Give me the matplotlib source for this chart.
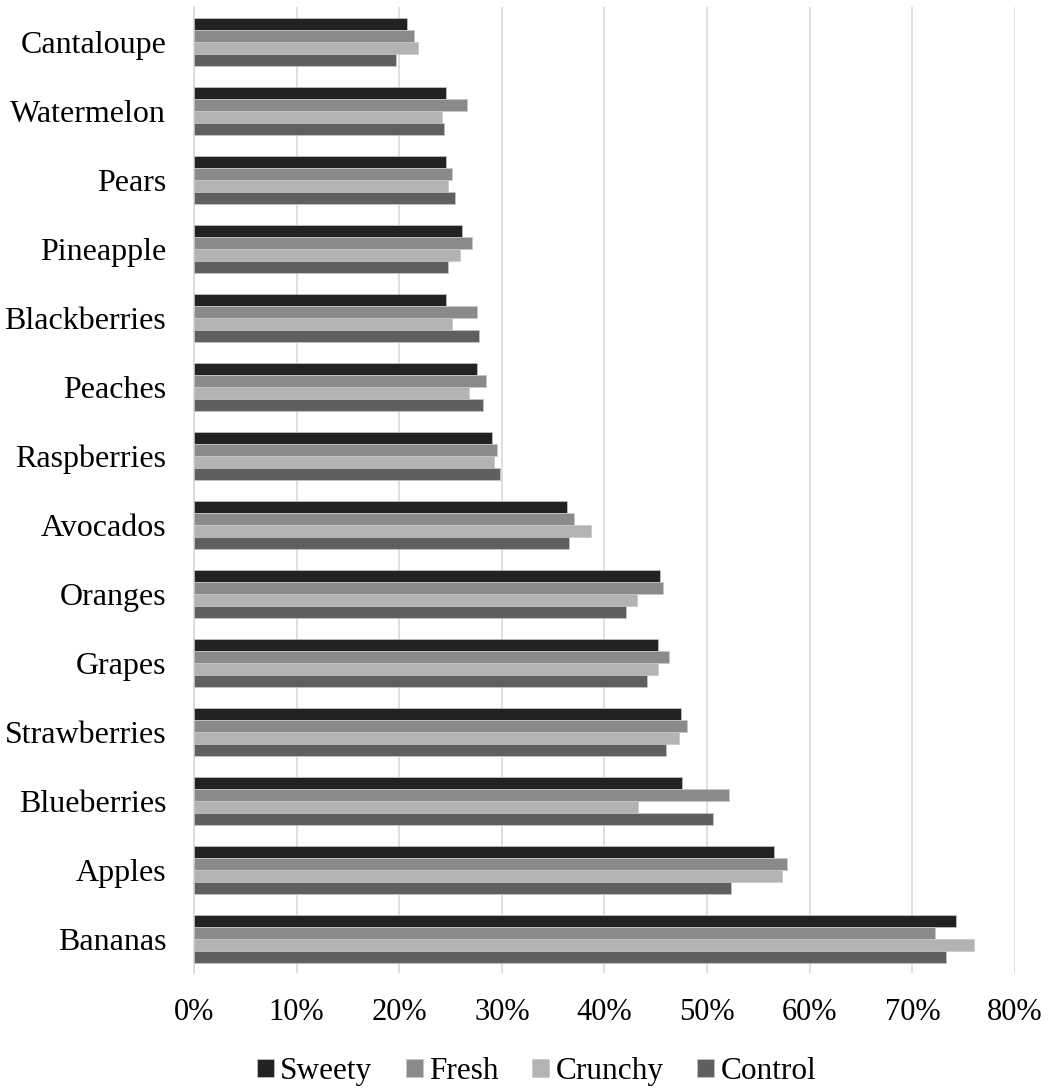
import matplotlib
matplotlib.use("Agg")
import matplotlib.pyplot as plt
import numpy as np
from matplotlib.ticker import FuncFormatter

fruits = ["Cantaloupe", "Watermelon", "Pears", "Pineapple", "Blackberries", "Peaches",
          "Raspberries", "Avocados", "Oranges", "Grapes", "Strawberries", "Blueberries",
          "Apples", "Bananas"]
sweety = [20.8, 24.6, 24.6, 26.1, 24.6, 27.6, 29.0, 36.3, 45.4, 45.2, 47.5, 47.6, 56.5, 74.3]
fresh = [21.4, 26.6, 25.1, 27.1, 27.6, 28.5, 29.5, 37.0, 45.7, 46.3, 48.0, 52.1, 57.8, 72.2]
crunchy = [21.8, 24.2, 24.8, 25.9, 25.1, 26.8, 29.2, 38.7, 43.2, 45.2, 47.3, 43.3, 57.3, 76.0]
control = [19.7, 24.4, 25.4, 24.8, 27.8, 28.2, 29.8, 36.5, 42.1, 44.1, 46.0, 50.6, 52.3, 73.3]

series = [("Sweety", sweety, "#222222"), ("Fresh", fresh, "#8a8a8a"),
          ("Crunchy", crunchy, "#b3b3b3"), ("Control", control, "#5f5f5f")]

plt.rcParams["font.family"] = ["Liberation Serif", "DejaVu Serif"]

fig = plt.figure(figsize=(10.48, 10.9), dpi=100)
ax = fig.add_axes([0.1851, 0.1073, 0.7834, 0.8862])

y = np.arange(len(fruits))
h = 0.174
for i, (name, vals, col) in enumerate(series):
    ax.barh(y + (i - 1.5) * h, np.array(vals) / 100, height=h, color=col,
            edgecolor="#c8c8c8", linewidth=0.5, label=name, zorder=3)

ax.set_xlim(0, 0.8)
ax.set_ylim(13.5, -0.5)
ax.set_xticks(np.arange(0, 0.81, 0.1))
ax.xaxis.set_major_formatter(FuncFormatter(lambda v, p: f"{v*100:.0f}%"))
ax.set_yticks(y)
ax.set_yticklabels(fruits)
ax.tick_params(axis="both", length=0, colors="black")
ax.tick_params(axis="x", pad=18, labelsize=22)
ax.tick_params(axis="y", pad=20, labelsize=23)
ax.grid(axis="x", color="#d9d9d9", lw=1.2, zorder=0)
for s in ["top", "right", "bottom"]:
    ax.spines[s].set_visible(False)
ax.spines["left"].set_color("#d9d9d9")
ax.spines["left"].set_linewidth(1.2)

fig.legend(*ax.get_legend_handles_labels(), loc="center", bbox_to_anchor=(0.512, 0.017),
           ncol=4, frameon=False, fontsize=22.5, handlelength=0.55, handleheight=0.55,
           handletextpad=0.2, columnspacing=1.07, borderpad=0.1)

fig.savefig("out.png", dpi=100)
